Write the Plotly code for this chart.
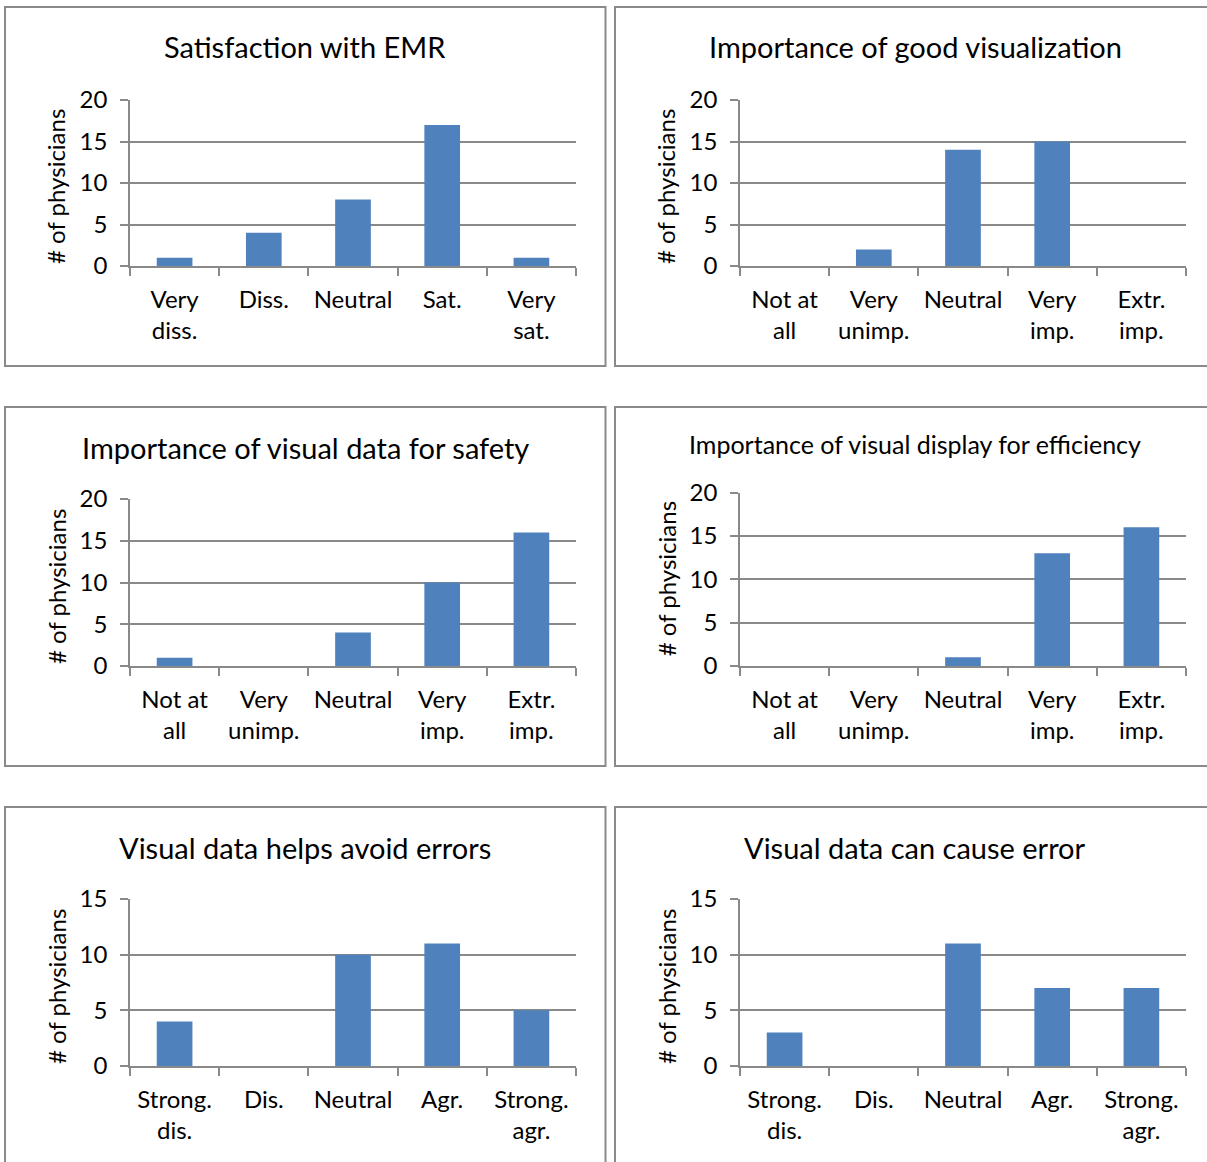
import plotly.graph_objects as go

# Survey response counts (# of physicians) for six questions
satisfaction_labels = ["Very\ndiss.", "Diss.", "Neutral", "Sat.", "Very\nsat."]
satisfaction_counts = [1, 4, 8, 17, 1]

importance_labels = ["Not at\nall", "Very\nunimp.", "Neutral", "Very\nimp.", "Extr.\nimp."]
visualization_counts = [0, 2, 14, 15, 0]
safety_counts = [1, 0, 4, 10, 16]
efficiency_counts = [0, 0, 1, 13, 16]

agreement_labels = ["Strong.\ndis.", "Dis.", "Neutral", "Agr.", "Strong.\nagr."]
avoid_errors_counts = [4, 0, 10, 11, 5]
cause_error_counts = [3, 0, 11, 7, 7]

titles = [
    "Satisfaction with EMR",
    "Importance of good visualization",
    "Importance of visual data for safety",
    "Importance of visual display for efficiency",
    "Visual data helps avoid errors",
    "Visual data can cause error",
]
panel_labels = [satisfaction_labels, importance_labels, importance_labels,
                importance_labels, agreement_labels, agreement_labels]
panel_counts = [satisfaction_counts, visualization_counts, safety_counts,
                efficiency_counts, avoid_errors_counts, cause_error_counts]
panel_ymax = [20, 20, 20, 20, 15, 15]
y_title = "# of physicians"

W, H = 1207, 1162
FONT = "Lato"
BAR = "#4F81BD"
GRID = "#898989"
BOX = "#8A8A8A"

# pixel geometry of each panel: plot area (left, right, top, bottom), box, title
plot_px = [
    (130, 576, 100, 266), (740, 1186, 100, 266),
    (130, 576, 499, 666), (740, 1186, 492.5, 666),
    (130, 576, 899, 1066), (740, 1186, 899, 1066),
]
box_px = [
    (5, 605.5, 7, 366), (615, 1215, 7, 366),
    (5, 605.5, 407, 766), (615, 1215, 407, 766),
    (5, 605.5, 807, 1170), (615, 1215, 807, 1170),
]
title_px = [(305, 47, 29), (915, 47, 29), (305, 447, 29),
            (915, 444, 25), (305, 847, 29), (915, 847, 29)]
# y-axis title: x centre in pixels, vertical centre as fraction of plot height
ytitle_pos = [(56, 0.476), (666, 0.476), (56, 0.473),
              (666, 0.500), (56, 0.473), (666, 0.473)]

fx = lambda px: px / W
fy = lambda py: 1 - py / H

fig = go.Figure()
layout = dict(
    width=W, height=H,
    margin=dict(l=0, r=0, t=0, b=0, pad=0, autoexpand=False),
    paper_bgcolor="white", plot_bgcolor="white",
    showlegend=False,
    font=dict(family=FONT, color="#000000", size=24),
    bargap=0.6,
    shapes=[], annotations=[],
)

for i in range(6):
    n = "" if i == 0 else str(i + 1)
    xa, ya = "x" + n, "y" + n
    labels = [s.replace("\n", "<br>") for s in panel_labels[i]]
    fig.add_trace(go.Bar(
        x=labels, y=panel_counts[i], xaxis=xa, yaxis=ya,
        marker=dict(color=BAR, line=dict(width=0)),
        hoverinfo="x+y",
    ))
    l, r, t, b = plot_px[i]
    layout["xaxis" + n] = dict(
        domain=[fx(l), fx(r)], anchor=ya, type="category",
        showline=True, linecolor=GRID, linewidth=1.5,
        ticks="outside", tickson="boundaries", ticklen=8, tickcolor=GRID, tickwidth=1.5,
        showgrid=False, ticklabelstandoff=11, automargin=False,
        tickfont=dict(family=FONT, size=24, color="#000000"),
        fixedrange=True,
    )
    layout["yaxis" + n] = dict(
        domain=[fy(b), fy(t)], anchor=xa,
        range=[0, panel_ymax[i]], dtick=5, tick0=0,
        showline=True, linecolor=GRID, linewidth=1.5,
        showgrid=True, gridcolor=GRID, gridwidth=1.5,
        ticks="outside", ticklen=8, tickcolor=GRID, tickwidth=1.5,
        ticklabelstandoff=8, zeroline=False, automargin=False,
        tickfont=dict(family=FONT, size=24, color="#000000"),
        fixedrange=True,
    )
    x0, x1, y0, y1 = box_px[i]
    layout["shapes"].append(dict(
        type="rect", xref="paper", yref="paper",
        x0=fx(x0), x1=fx(x1), y0=fy(y1), y1=fy(y0),
        line=dict(color=BOX, width=2), fillcolor="rgba(0,0,0,0)", layer="below",
    ))
    tx, ty, ts = title_px[i]
    layout["annotations"].append(dict(
        text=titles[i], xref="paper", yref="paper", x=fx(tx), y=fy(ty),
        xanchor="center", yanchor="middle", showarrow=False,
        font=dict(family=FONT, size=ts, color="#000000"),
    ))
    yx, yf = ytitle_pos[i]
    layout["annotations"].append(dict(
        text=y_title, xref="paper", yref=ya + " domain", x=fx(yx), y=yf,
        xanchor="center", yanchor="middle", showarrow=False, textangle=-90,
        font=dict(family=FONT, size=24, color="#000000"),
    ))

fig.update_layout(**layout)
fig.write_html("out.html")
